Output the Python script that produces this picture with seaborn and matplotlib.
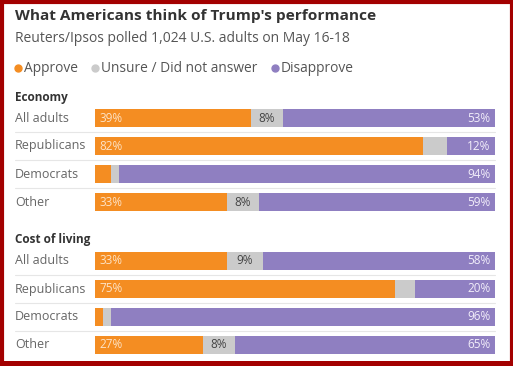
import numpy as np
import pandas as pd
import matplotlib.pyplot as plt
import seaborn as sns
from matplotlib.patches import Rectangle
from matplotlib.lines import Line2D

groups = ["All adults", "Republicans", "Democrats", "Other"]

# Economy
econ_approve = [39, 82, 4, 33]
econ_unsure = [8, 6, 2, 8]
econ_disapprove = [53, 12, 94, 59]

# Cost of living
cost_approve = [33, 75, 2, 27]
cost_unsure = [9, 5, 2, 8]
cost_disapprove = [58, 20, 96, 65]

ORANGE = "#f48d22"
GRAY = "#cbcbcb"
PURPLE = "#8f7fc1"
TEXT = "#555555"

sns.set_theme(style="white")
plt.rcParams["font.family"] = ["Open Sans", "DejaVu Sans"]

fig = plt.figure(figsize=(5.13, 3.66), dpi=100)
fig.patch.set_facecolor("white")


def panel(bottom, approve, unsure, disapprove):
    ax = fig.add_axes([95 / 513, bottom, 400 / 513, 112 / 366])
    df = pd.DataFrame({"group": groups, "a": approve, "u": unsure, "d": disapprove})
    df["au"] = df["a"] + df["u"]
    df["all"] = df["au"] + df["d"]
    sns.barplot(data=df, y="group", x="all", color=PURPLE, orient="h",
                width=0.64, saturation=1, ax=ax)
    sns.barplot(data=df, y="group", x="au", color=GRAY, orient="h",
                width=0.64, saturation=1, ax=ax)
    sns.barplot(data=df, y="group", x="a", color=ORANGE, orient="h",
                width=0.64, saturation=1, ax=ax)
    for p in ax.patches:
        p.set_linewidth(0)
    ax.set_xlim(0, 100)
    ax.set_ylim(3.5, -0.5)
    ax.set_xlabel("")
    ax.set_ylabel("")
    ax.set_xticks([])
    ax.set_yticks([])
    sns.despine(ax=ax, left=True, bottom=True)

    for i, row in df.iterrows():
        if row["a"] >= 10:
            ax.text(1.2, i, f"{row['a']}%", va="center", ha="left",
                    color="#fde3c6", fontsize=8.5)
        if row["u"] >= 7:
            ax.text(row["a"] + row["u"] / 2, i, f"{row['u']}%", va="center",
                    ha="center", color="#444444", fontsize=8.5)
        ax.text(98.8, i, f"{row['d']}%", va="center", ha="right",
                color="#f2eefa", fontsize=8.5)
        # row label
        ax.text(-80 / 400 * 100, i, row["group"], va="center", ha="left",
                color="#666666", fontsize=9, clip_on=False)
        if i < 3:
            ax.plot([-80 / 400 * 100, 100], [i + 0.5, i + 0.5], color="#e6e6e6",
                    lw=0.8, clip_on=False)
    return ax


panel(1 - 216 / 366, econ_approve, econ_unsure, econ_disapprove)
panel(1 - 359 / 366, cost_approve, cost_unsure, cost_disapprove)

fig.text(15 / 513, 1 - 16 / 366, "What Americans think of Trump's performance",
         fontsize=11.1, fontweight="bold", color="#333333", va="center")
fig.text(15 / 513, 1 - 38 / 366, "Reuters/Ipsos polled 1,024 U.S. adults on May 16-18",
         fontsize=10, color=TEXT, va="center")

# legend row
legend_items = [("Approve", ORANGE, 15), ("Unsure / Did not answer", GRAY, 92),
                ("Disapprove", PURPLE, 272)]
for label, col, x in legend_items:
    fig.add_artist(Line2D([(x + 3) / 513], [1 - 68 / 366], marker="o", ms=5,
                          color=col, lw=0, transform=fig.transFigure))
    fig.text((x + 9) / 513, 1 - 68 / 366, label, fontsize=9.9, color=TEXT,
             va="center")

fig.text(15 / 513, 1 - 97 / 366, "Economy", fontsize=8.5, fontweight="bold",
         color="#333333", va="center")
fig.text(15 / 513, 1 - 240 / 366, "Cost of living", fontsize=8.5, fontweight="bold",
         color="#333333", va="center")

# red frame, thicker along the bottom
fig.add_artist(Rectangle((1.5 / 513, 2.5 / 366), 510 / 513, 362 / 366,
                         transform=fig.transFigure, fill=False,
                         edgecolor="#a30000", lw=3))
fig.add_artist(Rectangle((0, 0), 1, 5 / 366, transform=fig.transFigure,
                         facecolor="#a30000", edgecolor="none"))

fig.savefig("out.png", dpi=100)
